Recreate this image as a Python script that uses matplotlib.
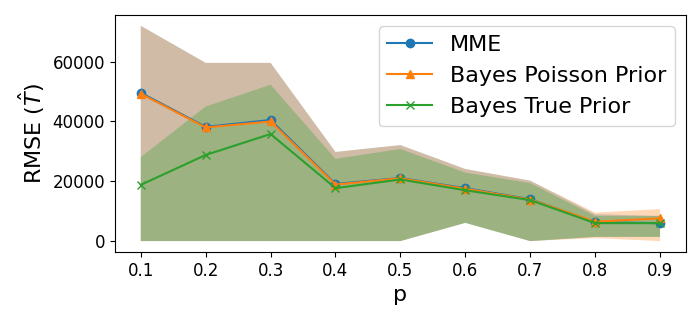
import numpy as np
from matplotlib import pyplot as plt

# sampling probabilities
p = [0.1, 0.2, 0.3, 0.4, 0.5, 0.6, 0.7, 0.8, 0.9]

# mean RMSE for each estimator
mme = [49600, 38200, 40500, 19100, 21100, 17700, 14000, 6300, 6000]
bayes_poisson = [49300, 38000, 40000, 18900, 21000, 17500, 13900, 6500, 7600]
bayes_true = [18800, 28800, 35800, 17700, 20600, 17000, 13700, 6000, 6000]

# spread bands (lower, upper)
mme_lo = [0, 0, 0, 0, 0, 6100, 0, 1400, 1400]
mme_hi = [72000, 59600, 59600, 29800, 32100, 24100, 20200, 9000, 8400]
poisson_lo = [0, 0, 0, 0, 0, 6100, 0, 1000, 0]
poisson_hi = [72000, 59600, 59600, 29800, 32100, 24100, 20200, 9500, 10700]
true_lo = [0, 0, 0, 0, 0, 6100, 0, 1400, 1400]
true_hi = [28100, 45000, 52300, 27500, 30800, 22900, 19400, 8400, 8400]

fig, ax = plt.subplots(figsize=(7, 3.2), dpi=100)

ax.plot(p, mme, marker="o", label="MME")
ax.fill_between(p, mme_lo, mme_hi, alpha=0.3)
ax.plot(p, bayes_poisson, marker="^", label="Bayes Poisson Prior")
ax.fill_between(p, poisson_lo, poisson_hi, alpha=0.3)
ax.plot(p, bayes_true, marker="x", label="Bayes True Prior")
ax.fill_between(p, true_lo, true_hi, alpha=0.3)

ax.set_xticks(p)
ax.tick_params(labelsize=12)
ax.set_xlabel("p", fontsize=16)
ax.set_ylabel(r"RMSE ($\hat{T}$)", fontsize=16)
ax.legend(loc="upper right", fontsize=16)

plt.subplots_adjust(left=0.164, right=0.98, top=0.953, bottom=0.213)
plt.savefig("out.png")
